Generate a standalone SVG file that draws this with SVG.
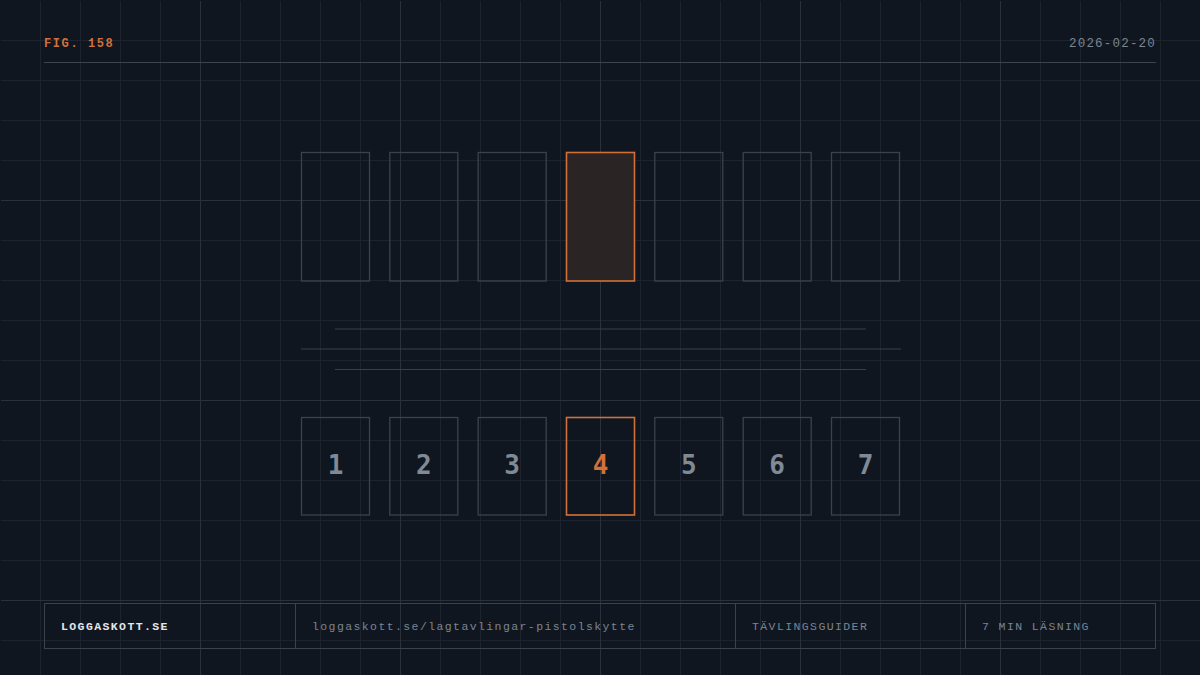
<svg xmlns="http://www.w3.org/2000/svg" width="1200" height="675" viewBox="0 0 1200 675">
<defs>
<pattern id="minor" width="40" height="40" patternUnits="userSpaceOnUse">
<path d="M0 0.5H40M0.5 0V40" fill="none" stroke="#1d242e" stroke-width="1"/>
</pattern>
<pattern id="major" width="200" height="200" patternUnits="userSpaceOnUse">
<path d="M0 0.5H200M0.5 0V200" fill="none" stroke="#2a313b" stroke-width="1"/>
</pattern>
</defs>
<style>
.mono{font-family:"Liberation Mono","DejaVu Sans Mono",monospace}
.box{fill:none;stroke:#3b424c;stroke-width:1.3}
.hl{fill:#2b2425;stroke:#d2703a;stroke-width:1.6}
.hlo{fill:none;stroke:#d2703a;stroke-width:1.6}
.num{font-family:"DejaVu Sans Mono","Liberation Mono",monospace;font-weight:bold;font-size:26px;fill:#7f8a96;text-anchor:middle}
.rule{stroke:#39404a;stroke-width:1}
.ft{font-family:"Liberation Mono","DejaVu Sans Mono",monospace;font-size:11.5px;fill:#7b8590;letter-spacing:1.4px}
</style>
<rect width="1200" height="675" fill="#0f1620"/>
<rect x="1" y="1" width="1199" height="674" fill="url(#minor)"/>
<rect x="1" y="1" width="1199" height="674" fill="url(#major)"/>

<g id="header">
<text x="44" y="47" class="mono" font-size="12" font-weight="bold" fill="#d2703a" letter-spacing="1.6">FIG. 158</text>
<text x="1156" y="47" class="mono" font-size="12.5" fill="#7b8590" text-anchor="end" letter-spacing="1.2">2026-02-20</text>
<line x1="44" y1="62.5" x2="1156" y2="62.5" stroke="#3d444e" stroke-width="1"/>
</g>

<g id="top-row">
<rect id="t1" class="box" x="301.5" y="152.5" width="68" height="128.5"/>
<rect id="t2" class="box" x="389.8" y="152.5" width="68" height="128.5"/>
<rect id="t3" class="box" x="478.2" y="152.5" width="68" height="128.5"/>
<rect id="t4" class="hl" x="566.5" y="152.5" width="68" height="128.5"/>
<rect id="t5" class="box" x="654.8" y="152.5" width="68" height="128.5"/>
<rect id="t6" class="box" x="743.2" y="152.5" width="68" height="128.5"/>
<rect id="t7" class="box" x="831.5" y="152.5" width="68" height="128.5"/>
</g>

<g id="connectors">
<line class="rule" x1="335" y1="329" x2="866" y2="329"/>
<line class="rule" x1="301" y1="349" x2="901" y2="349"/>
<line class="rule" x1="335" y1="369.5" x2="866" y2="369.5"/>
</g>

<g id="bottom-row">
<g id="n1"><rect class="box" x="301.5" y="417.5" width="68" height="97.5"/><text class="num" x="335.5" y="474">1</text></g>
<g id="n2"><rect class="box" x="389.8" y="417.5" width="68" height="97.5"/><text class="num" x="423.8" y="474">2</text></g>
<g id="n3"><rect class="box" x="478.2" y="417.5" width="68" height="97.5"/><text class="num" x="512.2" y="474">3</text></g>
<g id="n4"><rect class="hlo" x="566.5" y="417.5" width="68" height="97.5"/><text class="num" x="600.5" y="474" style="fill:#d2703a">4</text></g>
<g id="n5"><rect class="box" x="654.8" y="417.5" width="68" height="97.5"/><text class="num" x="688.8" y="474">5</text></g>
<g id="n6"><rect class="box" x="743.2" y="417.5" width="68" height="97.5"/><text class="num" x="777.2" y="474">6</text></g>
<g id="n7"><rect class="box" x="831.5" y="417.5" width="68" height="97.5"/><text class="num" x="865.5" y="474">7</text></g>
</g>

<g id="footer">
<rect x="44.5" y="603.5" width="1111" height="45" fill="none" stroke="#3b424c" stroke-width="1"/>
<line x1="295.5" y1="603.5" x2="295.5" y2="648.5" stroke="#3b424c"/>
<line x1="735.5" y1="603.5" x2="735.5" y2="648.5" stroke="#3b424c"/>
<line x1="965.5" y1="603.5" x2="965.5" y2="648.5" stroke="#3b424c"/>
<text x="61" y="630" class="mono" font-size="11.5" font-weight="bold" fill="#e4e7ea" letter-spacing="1.4">LOGGASKOTT.SE</text>
<text x="312" y="630" class="ft">loggaskott.se/lagtavlingar-pistolskytte</text>
<text x="752" y="630" class="ft">TÄVLINGSGUIDER</text>
<text x="982" y="630" class="ft">7 MIN LÄSNING</text>
</g>
</svg>
